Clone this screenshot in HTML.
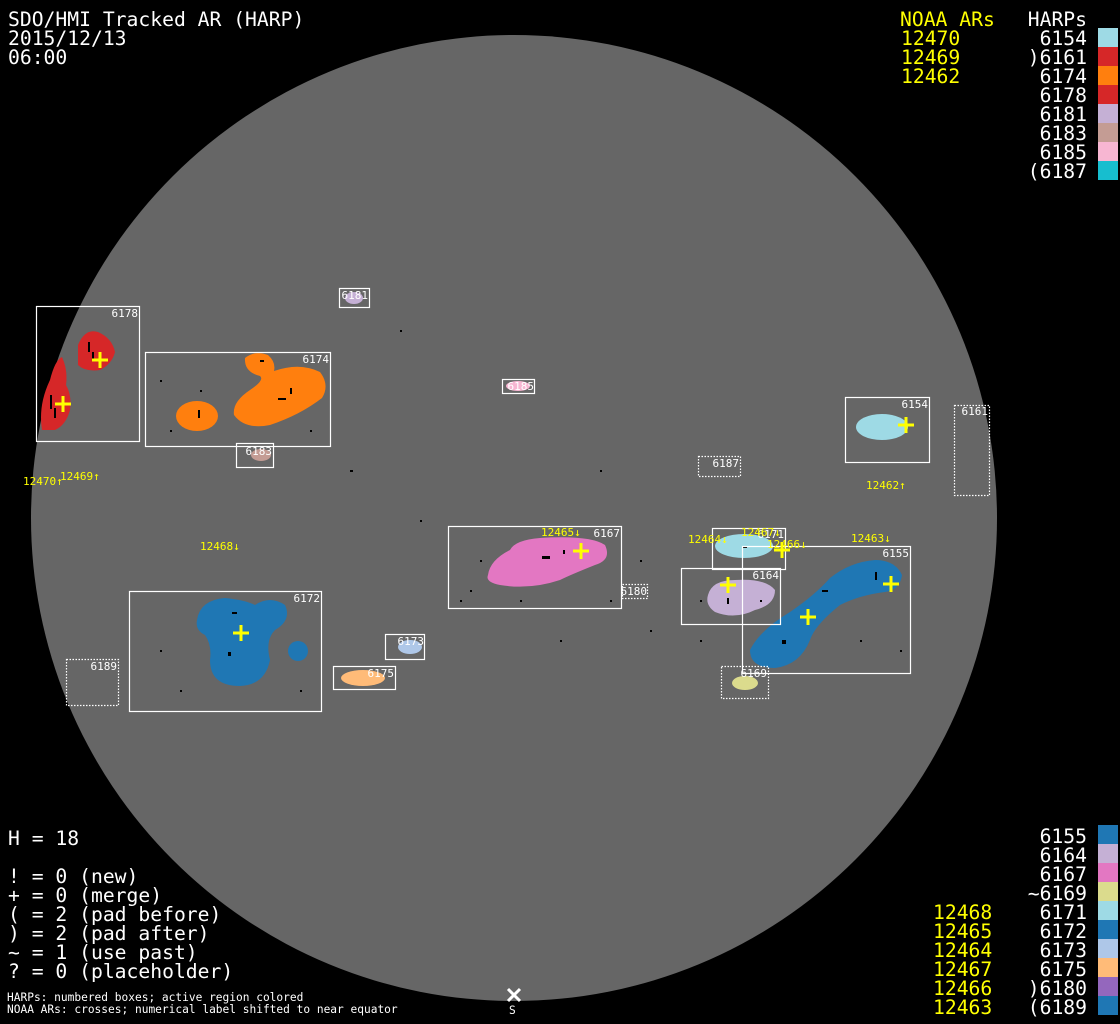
<!DOCTYPE html>
<html><head><meta charset="utf-8"><style>
html,body{margin:0;padding:0;background:#000;}
svg{display:block;}
.m{font-family:"DejaVu Sans Mono","Liberation Mono",monospace;}
</style></head><body>
<svg width="1120" height="1024" viewBox="0 0 1120 1024" xmlns="http://www.w3.org/2000/svg">
<rect width="1120" height="1024" fill="#000"/>
<circle cx="514" cy="518" r="483" fill="#666"/>

<g>
<path d="M78,345 Q85,328 98,332 Q112,338 115,352 Q112,364 100,370 Q85,372 78,365 Z" fill="#d62728"/>
<path d="M42,430 Q38,405 50,380 Q55,360 62,357 Q68,370 66,385 Q72,395 70,410 Q66,425 55,430 Z" fill="#d62728"/>
<ellipse cx="197" cy="416" rx="21" ry="15" fill="#ff7f0e"/>
<path d="M245,358 Q255,350 268,355 Q276,362 274,371 Q300,362 320,372 Q330,385 322,398 Q300,415 270,425 Q245,430 234,415 Q232,402 250,390 Q265,380 260,376 Q244,372 245,358Z" fill="#ff7f0e"/>
<ellipse cx="261" cy="455" rx="10" ry="6" fill="#c49c94"/>
<ellipse cx="354" cy="298" rx="9" ry="6" fill="#c5b0d5"/>
<ellipse cx="518" cy="386" rx="12" ry="5" fill="#f7b6d2"/>
<ellipse cx="882" cy="427" rx="26" ry="13" fill="#9edae5"/>
<path d="M488,575 Q490,560 510,550 Q515,540 540,538 Q590,535 605,545 Q612,560 595,565 Q570,575 560,580 Q530,590 500,585 Q485,582 488,575 Z" fill="#e377c2"/>
<ellipse cx="744" cy="546" rx="29" ry="12" fill="#9edae5"/>
<path d="M708,595 Q712,580 735,580 Q765,578 775,590 Q775,605 755,610 Q735,620 715,612 Q705,605 708,595 Z" fill="#c5b0d5"/>
<path d="M750,650 Q760,630 790,612 Q815,595 830,578 Q850,562 875,560 Q895,560 902,575 Q900,590 885,592 Q860,595 840,605 Q815,625 810,640 Q800,665 775,668 Q750,668 750,650 Z" fill="#1f77b4"/>
<ellipse cx="745" cy="683" rx="13" ry="7" fill="#dbdb8d"/>
<path d="M197,620 Q200,600 225,598 Q245,600 255,605 Q270,595 285,605 Q292,620 275,630 Q265,640 270,660 Q265,685 240,686 Q210,686 210,660 Q212,645 205,635 Q195,630 197,620 Z" fill="#1f77b4"/>
<ellipse cx="298" cy="651" rx="10" ry="10" fill="#1f77b4"/>
<ellipse cx="410" cy="647" rx="12" ry="7" fill="#aec7e8"/>
<ellipse cx="363" cy="678" rx="22" ry="8" fill="#ffbb78"/>
</g>

<g fill="#000">
<rect x="88" y="342" width="2" height="10"/><rect x="92" y="352" width="2" height="8"/>
<rect x="50" y="395" width="2" height="14"/><rect x="54" y="408" width="2" height="10"/>
<rect x="278" y="398" width="8" height="2"/><rect x="290" y="388" width="2" height="6"/>
<rect x="198" y="410" width="2" height="8"/><rect x="260" y="360" width="4" height="2"/>
<rect x="542" y="556" width="8" height="3"/><rect x="563" y="550" width="2" height="4"/>
<rect x="875" y="572" width="2" height="8"/><rect x="822" y="590" width="6" height="2"/>
<rect x="782" y="640" width="4" height="4"/><rect x="232" y="612" width="5" height="2"/>
<rect x="228" y="652" width="3" height="4"/><rect x="727" y="598" width="2" height="6"/>
<rect x="742" y="546" width="5" height="2"/>
<rect x="160" y="380" width="2" height="2"/><rect x="420" y="520" width="2" height="2"/>
<rect x="600" y="470" width="2" height="2"/><rect x="650" y="630" width="2" height="2"/>
<rect x="460" y="600" width="2" height="2"/><rect x="700" y="640" width="2" height="2"/>
<rect x="560" y="640" width="2" height="2"/><rect x="900" y="650" width="2" height="2"/>
<rect x="350" y="470" width="3" height="2"/><rect x="400" y="330" width="2" height="2"/>
<rect x="480" y="560" width="2" height="2"/><rect x="470" y="590" width="2" height="2"/>
<rect x="520" y="600" width="2" height="2"/><rect x="610" y="600" width="2" height="2"/>
<rect x="180" y="690" width="2" height="2"/><rect x="160" y="650" width="2" height="2"/>
<rect x="300" y="690" width="2" height="2"/><rect x="700" y="600" width="2" height="2"/>
<rect x="760" y="600" width="2" height="2"/><rect x="860" y="640" width="2" height="2"/>
<rect x="200" y="390" width="2" height="2"/><rect x="170" y="430" width="2" height="2"/>
<rect x="310" y="430" width="2" height="2"/><rect x="640" y="560" width="2" height="2"/>
</g>

<g fill="none" stroke="#fff" stroke-width="1.2">
<rect x="36.5" y="306.5" width="103" height="135"/>
<rect x="145.5" y="352.5" width="185" height="94"/>
<rect x="236.5" y="443.5" width="37" height="24"/>
<rect x="339.5" y="288.5" width="30" height="19"/>
<rect x="502.5" y="379.5" width="32" height="14"/>
<rect x="845.5" y="397.5" width="84" height="65"/>
<rect x="448.5" y="526.5" width="173" height="82"/>
<rect x="712.5" y="528.5" width="73" height="41"/>
<rect x="681.5" y="568.5" width="99" height="56"/>
<rect x="742.5" y="546.5" width="168" height="127"/>
<rect x="129.5" y="591.5" width="192" height="120"/>
<rect x="385.5" y="634.5" width="39" height="25"/>
<rect x="333.5" y="666.5" width="62" height="23"/>
</g>
<g fill="none" stroke="#fff" stroke-width="1.2" stroke-dasharray="1.5,1.5">
<rect x="954.5" y="405.5" width="35" height="90"/>
<rect x="698.5" y="456.5" width="42" height="20"/>
<rect x="622.5" y="584.5" width="25" height="14"/>
<rect x="721.5" y="666.5" width="47" height="32"/>
<rect x="66.5" y="659.5" width="52" height="46"/>
</g>
<g class="m" fill="#fff" font-size="11" text-anchor="end">
<text x="138" y="317">6178</text><text x="329" y="363">6174</text>
<text x="272" y="455">6183</text><text x="368" y="299">6181</text>
<text x="534" y="390">6185</text><text x="928" y="408">6154</text>
<text x="988" y="415">6161</text><text x="739" y="467">6187</text>
<text x="620" y="537">6167</text><text x="647" y="595">6180</text>
<text x="784" y="538">6171</text><text x="779" y="579">6164</text>
<text x="909" y="557">6155</text><text x="767" y="677">6169</text>
<text x="320" y="602">6172</text><text x="424" y="645">6173</text>
<text x="394" y="677">6175</text><text x="117" y="670">6189</text>
</g>

<g stroke="#ff0" stroke-width="3">
<path d="M92,360h16M100,352v16"/><path d="M55,404h16M63,396v16"/>
<path d="M573,551h16M581,543v16"/><path d="M898,425h16M906,417v16"/>
<path d="M774,550h16M782,542v16"/><path d="M720,585h16M728,577v16"/>
<path d="M800,617h16M808,609v16"/><path d="M883,584h16M891,576v16"/>
<path d="M233,633h16M241,625v16"/>
</g>
<g class="m" fill="#ff0" font-size="11">
<text x="23" y="485">12470↑</text><text x="60" y="480">12469↑</text>
<text x="200" y="550">12468↓</text><text x="541" y="536">12465↓</text>
<text x="741" y="536">12467↓</text><text x="688" y="543">12464↓</text>
<text x="767" y="548">12466↓</text><text x="851" y="542">12463↓</text>
<text x="866" y="489">12462↑</text>
</g>

<g class="m" font-size="19.7" fill="#fff">
<text x="8" y="26">SDO/HMI Tracked AR (HARP)</text>
<text x="8" y="45">2015/12/13</text>
<text x="8" y="64">06:00</text>
<text x="8" y="845">H = 18</text>
<text x="8" y="883">! = 0 (new)</text>
<text x="8" y="902">+ = 0 (merge)</text>
<text x="8" y="921">( = 2 (pad before)</text>
<text x="8" y="940">) = 2 (pad after)</text>
<text x="8" y="959">~ = 1 (use past)</text>
<text x="8" y="978">? = 0 (placeholder)</text>
</g>
<g class="m" font-size="19.7" fill="#ff0">
<text x="900" y="26">NOAA ARs</text>
<text x="901" y="45">12470</text><text x="901" y="64">12469</text><text x="901" y="83">12462</text>
<text x="933" y="919">12468</text><text x="933" y="938">12465</text><text x="933" y="957">12464</text>
<text x="933" y="976">12467</text><text x="933" y="995">12466</text><text x="933" y="1014">12463</text>
</g>
<g class="m" font-size="19.7" fill="#fff" text-anchor="end">
<text x="1087" y="26">HARPs</text>
<text x="1087" y="45">6154</text><text x="1087" y="64">)6161</text><text x="1087" y="83">6174</text>
<text x="1087" y="102">6178</text><text x="1087" y="121">6181</text><text x="1087" y="140">6183</text>
<text x="1087" y="159">6185</text><text x="1087" y="178">(6187</text>
<text x="1087" y="843">6155</text><text x="1087" y="862">6164</text><text x="1087" y="881">6167</text>
<text x="1087" y="900">~6169</text><text x="1087" y="919">6171</text><text x="1087" y="938">6172</text>
<text x="1087" y="957">6173</text><text x="1087" y="976">6175</text><text x="1087" y="995">)6180</text>
<text x="1087" y="1014">(6189</text>
</g>
<g>
<rect x="1098" y="28" width="20" height="19" fill="#9edae5"/>
<rect x="1098" y="47" width="20" height="19" fill="#d62728"/>
<rect x="1098" y="66" width="20" height="19" fill="#ff7f0e"/>
<rect x="1098" y="85" width="20" height="19" fill="#d62728"/>
<rect x="1098" y="104" width="20" height="19" fill="#c5b0d5"/>
<rect x="1098" y="123" width="20" height="19" fill="#c49c94"/>
<rect x="1098" y="142" width="20" height="19" fill="#f7b6d2"/>
<rect x="1098" y="161" width="20" height="19" fill="#17becf"/>
<rect x="1098" y="825" width="20" height="19" fill="#1f77b4"/>
<rect x="1098" y="844" width="20" height="19" fill="#c5b0d5"/>
<rect x="1098" y="863" width="20" height="19" fill="#e377c2"/>
<rect x="1098" y="882" width="20" height="19" fill="#dbdb8d"/>
<rect x="1098" y="901" width="20" height="19" fill="#9edae5"/>
<rect x="1098" y="920" width="20" height="19" fill="#1f77b4"/>
<rect x="1098" y="939" width="20" height="19" fill="#aec7e8"/>
<rect x="1098" y="958" width="20" height="19" fill="#ffbb78"/>
<rect x="1098" y="977" width="20" height="19" fill="#9467bd"/>
<rect x="1098" y="996" width="20" height="19" fill="#1f77b4"/>
</g>
<g class="m" font-size="11.2" fill="#fff">
<text x="7" y="1001">HARPs: numbered boxes; active region colored</text>
<text x="7" y="1013">NOAA ARs: crosses; numerical label shifted to near equator</text>
<text x="509" y="1014">S</text>
</g>
<path d="M508,989l12,12M520,989l-12,12" stroke="#fff" stroke-width="3"/>
</svg>
</body></html>
